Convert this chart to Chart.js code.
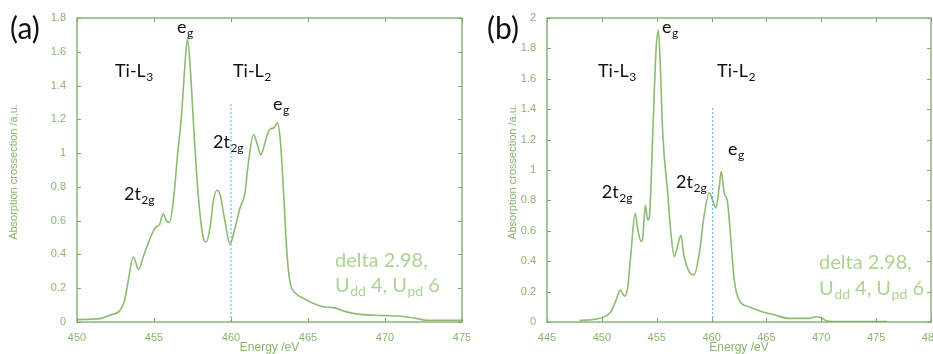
<!DOCTYPE html>
<html><head><meta charset="utf-8">
<script src="https://cdn.jsdelivr.net/npm/chart.js@4/dist/chart.umd.min.js"></script>
<style>
html,body{margin:0;padding:0;background:#fff;width:933px;height:354px;overflow:hidden;position:relative}
canvas{position:absolute;top:0}
#ca{left:0}
#cb{left:463px}
</style></head><body>
<canvas id="ca" width="470" height="354"></canvas>
<canvas id="cb" width="470" height="354"></canvas>
<script>
// Panel (a) data
const energyA = [450,451.5,452.1,452.8,453.1,453.3,453.66,454.0,454.3,454.7,455.1,455.35,455.6,455.8,456.0,456.26,456.5,456.8,457.0,457.17,457.35,457.6,457.9,458.25,458.4,458.64,458.86,459.1,459.3,459.6,459.94,460.16,460.6,460.9,461.1,461.46,461.68,461.94,462.2,462.5,462.8,463.0,463.2,463.44,463.65,463.85,464.2,464.7,465.36,466.0,466.66,467.5,468.4,469.26,470.1,471.0,472.1,472.7,475];
const absA = [0.014,0.02,0.04,0.07,0.13,0.23,0.385,0.31,0.385,0.485,0.56,0.575,0.64,0.60,0.59,0.72,0.96,1.24,1.51,1.675,1.51,1.12,0.72,0.485,0.475,0.56,0.72,0.78,0.75,0.60,0.46,0.52,0.68,0.76,0.92,1.11,1.06,0.99,1.06,1.14,1.15,1.18,1.08,0.72,0.385,0.23,0.17,0.14,0.11,0.09,0.085,0.06,0.045,0.04,0.038,0.034,0.02,0.01,0.01];
const xTicksA = [450,455,460,465,470,475];
const yTicksA = [0,0.2,0.4,0.6,0.8,1,1.2,1.4,1.6,1.8];
const markerA = {x:460, y0:0, y1:1.3};

// Panel (b) data
const energyB = [447.97,449.5,450.4,450.85,451.3,451.67,452.06,452.36,452.67,453.03,453.27,453.58,453.7,453.97,454.18,454.33,454.64,454.94,455.15,455.33,455.55,456.0,456.3,456.6,456.9,457.2,457.5,457.97,458.4,458.88,459.3,459.8,460.1,460.4,460.7,460.88,461.15,461.45,461.76,462.06,462.5,463.4,464.6,465.8,467.0,468.9,469.5,469.97,470.4,471.3,476.0];
const absB = [0.01,0.02,0.04,0.07,0.145,0.21,0.17,0.23,0.47,0.715,0.61,0.53,0.54,0.77,0.67,0.69,1.24,1.79,1.92,1.68,1.24,0.85,0.58,0.43,0.50,0.57,0.43,0.33,0.31,0.45,0.69,0.85,0.80,0.75,0.89,0.99,0.85,0.79,0.54,0.28,0.145,0.10,0.068,0.046,0.024,0.024,0.035,0.03,0.01,0.003,0.003];
const xTicksB = [445,450,455,460,465,470,475,480];
const yTicksB = [0,0.2,0.4,0.6,0.8,1,1.2,1.4,1.6,1.8,2];
const markerB = {x:460.1, y0:0, y1:1.42};

// Text labels: [text, subscript, x-value, y-value]
const labelsA = [["e","g",456.5,1.71],["Ti-L","3",452.47,1.45],["Ti-L","2",460.13,1.45],["2t","2g",453.05,0.72],["2t","2g",458.83,1.03],["e","g",462.73,1.255]];
const labelsB = [["e","g",455.48,1.90],["Ti-L","3",449.65,1.61],["Ti-L","2",460.5,1.61],["2t","2g",450.0,0.815],["2t","2g",456.76,0.88],["e","g",461.5,1.10]];
const noteA = {x:466.75, y1:0.326, y2:0.178};
const noteB = {x:469.8, y1:0.35, y2:0.178};

const AXIS = '#7ea864', LINE = '#8dbb72', TXT = '#8ab46e', NOTE = '#add393', BLUE = '#4fb3e6';

function drawSub(ctx, x, y, main, sub, size, color){
  ctx.fillStyle = color;
  ctx.font = size + 'px Lato, "Open Sans", sans-serif';
  ctx.textAlign = 'left'; ctx.textBaseline = 'alphabetic';
  ctx.fillText(main, x, y);
  const w = ctx.measureText(main).width;
  ctx.font = Math.round(size*0.68) + 'px Lato, "Open Sans", sans-serif';
  ctx.fillText(sub, x + w + 0.5, y + size*0.22);
  return w + ctx.measureText(sub).width + 0.5;
}

function makeChart(id, energy, abs, xTicks, yTicks, marker, labels, note, tag, cfg){
  const data = energy.map((e,i)=>({x:e, y:abs[i]}));
  const mk = [{x:marker.x,y:marker.y0},{x:marker.x,y:marker.y1}];
  const deco = {
    id:'deco',
    afterDraw(chart){
      const ctx = chart.ctx, a = chart.chartArea, xs = chart.scales.x, ys = chart.scales.y;
      ctx.save();
      ctx.strokeStyle = AXIS; ctx.lineWidth = 1.3;
      ctx.strokeRect(a.left, a.top, a.right-a.left, a.bottom-a.top);
      ctx.lineWidth = 1;
      const tl = 4;
      xTicks.forEach(v=>{const p = Math.round(xs.getPixelForValue(v))+0.5;
        ctx.beginPath(); ctx.moveTo(p,a.bottom); ctx.lineTo(p,a.bottom-tl); ctx.moveTo(p,a.top); ctx.lineTo(p,a.top+tl); ctx.stroke();});
      yTicks.forEach(v=>{const p = Math.round(ys.getPixelForValue(v))+0.5;
        ctx.beginPath(); ctx.moveTo(a.left,p); ctx.lineTo(a.left+tl,p); ctx.moveTo(a.right,p); ctx.lineTo(a.right-tl,p); ctx.stroke();});
      // axis titles
      ctx.fillStyle = TXT; ctx.font = '12px "Liberation Sans", Arial, sans-serif';
      ctx.textAlign='center'; ctx.textBaseline='alphabetic';
      ctx.fillText('Energy /eV', (a.left+a.right)/2, 351);
      ctx.save(); ctx.translate(cfg.yTitleX, (a.top+a.bottom)/2 + 2); ctx.rotate(-Math.PI/2);
      ctx.font = '11px "Liberation Sans", Arial, sans-serif';
      ctx.fillText('Absorption crossection /a.u.', 0, 0); ctx.restore();
      // panel tag
      ctx.fillStyle = '#111'; ctx.font = '30px Lato, "Open Sans", sans-serif'; ctx.textAlign='left';
      ctx.fillText(tag, cfg.tagX, 39);
      // labels
      labels.forEach(l=>drawSub(ctx, xs.getPixelForValue(l[2]), ys.getPixelForValue(l[3]), l[0], l[1], 18, '#111'));
      // note
      const nx = xs.getPixelForValue(note.x);
      ctx.fillStyle = NOTE; ctx.font = '20px Lato, "Open Sans", sans-serif'; ctx.textAlign='left';
      ctx.fillText('delta 2.98,', nx, ys.getPixelForValue(note.y1));
      let y2 = ys.getPixelForValue(note.y2), x = nx;
      x += drawSub(ctx, x, y2, 'U', 'dd', 20, NOTE);
      ctx.font = '20px Lato, "Open Sans", sans-serif'; ctx.fillText(' 4, ', x, y2); x += ctx.measureText(' 4, ').width;
      x += drawSub(ctx, x, y2, 'U', 'pd', 20, NOTE);
      ctx.font = '20px Lato, "Open Sans", sans-serif'; ctx.fillText(' 6', x, y2);
      ctx.restore();
    }
  };
  return new Chart(document.getElementById(id), {
    type:'line',
    data:{datasets:[
      {data:mk, borderColor:BLUE, borderWidth:1, borderDash:[2,2], pointRadius:0, tension:0},
      {data:data, borderColor:LINE, borderWidth:1.6, pointRadius:0, cubicInterpolationMode:'monotone'}
    ]},
    options:{
      responsive:false, animation:false,
      layout:{padding:{left:0, right:cfg.padRight, top:18, bottom:0}},
      plugins:{legend:{display:false}, tooltip:{enabled:false}},
      scales:{
        x:{type:'linear', min:xTicks[0], max:xTicks[xTicks.length-1],
           afterBuildTicks(s){s.ticks = xTicks.map(v=>({value:v}));},
           afterFit(s){s.height = 32; s.paddingLeft = 0; s.paddingRight = 0;},
           grid:{display:false}, border:{display:false},
           ticks:{color:TXT, font:{family:'"Liberation Sans", Arial, sans-serif', size:11}, padding:1, maxRotation:0, autoSkip:false, callback:v=>String(v)}},
        y:{min:yTicks[0], max:yTicks[yTicks.length-1],
           afterBuildTicks(s){s.ticks = yTicks.map(v=>({value:v}));},
           afterFit(s){s.width = cfg.yWidth; s.paddingTop = 0; s.paddingBottom = 0;},
           grid:{display:false}, border:{display:false},
           ticks:{color:TXT, font:{family:'"Liberation Sans", Arial, sans-serif', size:11}, padding:3, autoSkip:false, callback:v=>String(+(+v).toFixed(1))}}
      }
    },
    plugins:[deco]
  });
}

makeChart('ca', energyA, absA, xTicksA, yTicksA, markerA, labelsA, noteA, '(a)', {yWidth:77, padRight:8, yTitleX:17, tagX:10});
makeChart('cb', energyB, absB, xTicksB, yTicksB, markerB, labelsB, noteB, '(b)', {yWidth:84, padRight:2, yTitleX:53, tagX:24});
</script>
</body></html>
